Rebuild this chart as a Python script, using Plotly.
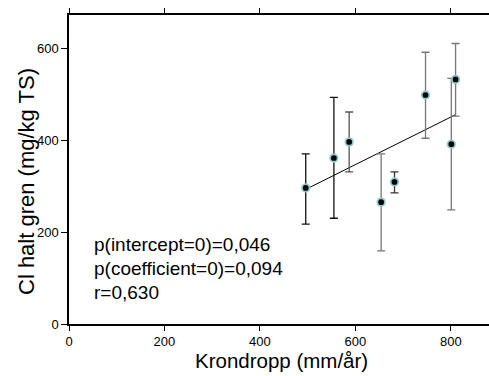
import numpy as np
import plotly.graph_objects as go

# Data
krondropp = [496, 555, 587, 654, 682, 747, 801, 810]
cl_halt = [296, 361, 396, 265, 309, 498, 391, 532]
cl_upper = [370, 493, 461, 370, 331, 591, 534, 610]
cl_lower = [217, 230, 331, 159, 285, 404, 248, 452]
bar_colors = ['#111111', '#111111', '#555555', '#777777', '#333333', '#777777', '#777777', '#777777']
x_ticks = [0, 200, 400, 600, 800]
y_ticks = [0, 200, 400, 600]
stats_lines = ["p(intercept=0)=0,046", "p(coefficient=0)=0,094", "r=0,630"]

W, H = 489, 376
L, R, T, B = 69, 0, 15, 52

fig = go.Figure()

# Regression line
coef = np.polyfit(krondropp, cl_halt, 1)
xl = np.array([min(krondropp), max(krondropp)])
fig.add_trace(go.Scatter(x=xl, y=np.polyval(coef, xl), mode='lines',
                         line=dict(color='black', width=1), showlegend=False,
                         hoverinfo='skip'))

# Error bars (per-point colour)
for i in range(len(krondropp)):
    fig.add_trace(go.Scatter(
        x=[krondropp[i]], y=[cl_halt[i]], mode='markers',
        marker=dict(size=1, color='rgba(0,0,0,0)'),
        error_y=dict(type='data', symmetric=False,
                     array=[cl_upper[i] - cl_halt[i]],
                     arrayminus=[cl_halt[i] - cl_lower[i]],
                     color=bar_colors[i], thickness=1.3, width=4),
        showlegend=False, hoverinfo='skip'))

# Points
fig.add_trace(go.Scatter(x=krondropp, y=cl_halt, mode='markers',
                         marker=dict(size=7.5, color='black',
                                     line=dict(color='#8ecaca', width=1.8)),
                         showlegend=False))

ph = H - T - B
annos = []
for k, txt in enumerate(stats_lines):
    py = 244 + 24 * k
    annos.append(dict(text=txt, xref='paper', yref='paper',
                      x=(92 - L) / (W - L - R), y=(H - B - py) / ph,
                      xanchor='left', yanchor='middle', showarrow=False,
                      font=dict(size=19, color='black', family='Liberation Sans, Arial')))
annos.append(dict(text='Krondropp (mm/år)', xref='paper', yref='paper',
                  x=(281 - L) / (W - L - R), y=(H - B - 360) / ph,
                  xanchor='center', yanchor='middle', showarrow=False,
                  font=dict(size=20.5, color='black', family='Liberation Sans, Arial')))
annos.append(dict(text='Cl halt gren (mg/kg TS)', xref='paper', yref='paper',
                  x=(26 - L) / (W - L - R), y=(H - B - 182) / ph,
                  xanchor='center', yanchor='middle', showarrow=False, textangle=-90,
                  font=dict(size=22, color='black', family='Liberation Sans, Arial')))

fig.update_layout(
    width=W, height=H,
    margin=dict(l=L, r=R, t=T, b=B, pad=0),
    paper_bgcolor='white', plot_bgcolor='white',
    font=dict(family='Liberation Sans, Arial', size=13, color='black'),
    annotations=annos,
    xaxis=dict(range=[0, 880], tickvals=x_ticks, ticks='outside', ticklen=5,
               tickwidth=1, tickcolor='black', showline=True, linecolor='black',
               linewidth=1.5, mirror='ticks', showgrid=False, zeroline=False,
               tickfont=dict(size=13)),
    yaxis=dict(range=[0, 672], tickvals=y_ticks, ticks='outside', ticklen=6,
               tickwidth=1, tickcolor='black', showline=True, linecolor='black',
               linewidth=1.5, showgrid=False, zeroline=False,
               tickfont=dict(size=13)),
)

fig.write_html("out.html")
